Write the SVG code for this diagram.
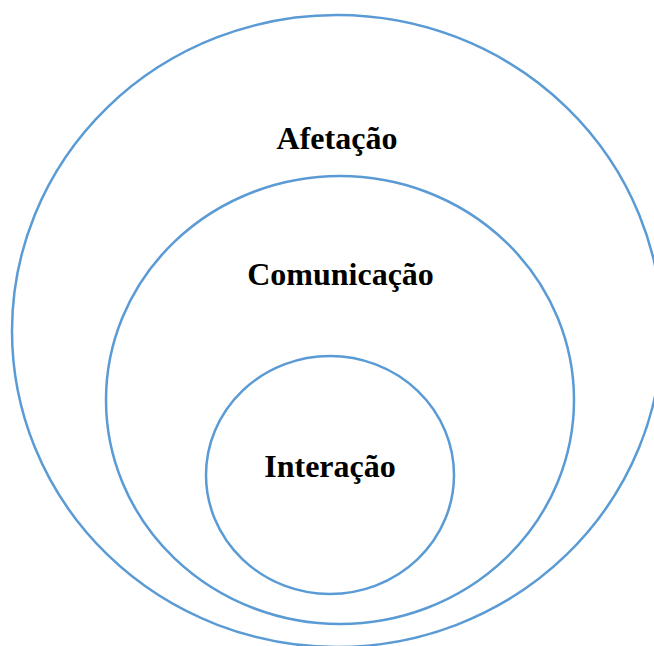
<svg xmlns="http://www.w3.org/2000/svg" width="654" height="646" viewBox="0 0 654 646">
<style>
.ring{fill:none;stroke:#5B9BD5;stroke-width:2.5}
.lbl{font-family:"Liberation Serif","Times New Roman",serif;font-weight:bold;font-size:32px;fill:#000;text-anchor:middle}
</style>
<rect width="654" height="646" fill="#fff"/>
<g id="afetacao">
<ellipse class="ring" cx="337" cy="331" rx="325" ry="316"/>
<text class="lbl" x="337" y="149">Afetação</text>
</g>
<g id="comunicacao">
<ellipse class="ring" cx="340" cy="400" rx="234" ry="224"/>
<text class="lbl" x="340.5" y="285">Comunicação</text>
</g>
<g id="interacao">
<ellipse class="ring" cx="330" cy="475" rx="124" ry="119"/>
<text class="lbl" x="330" y="477">Interação</text>
</g>
<g id="connectors"></g>
</svg>
